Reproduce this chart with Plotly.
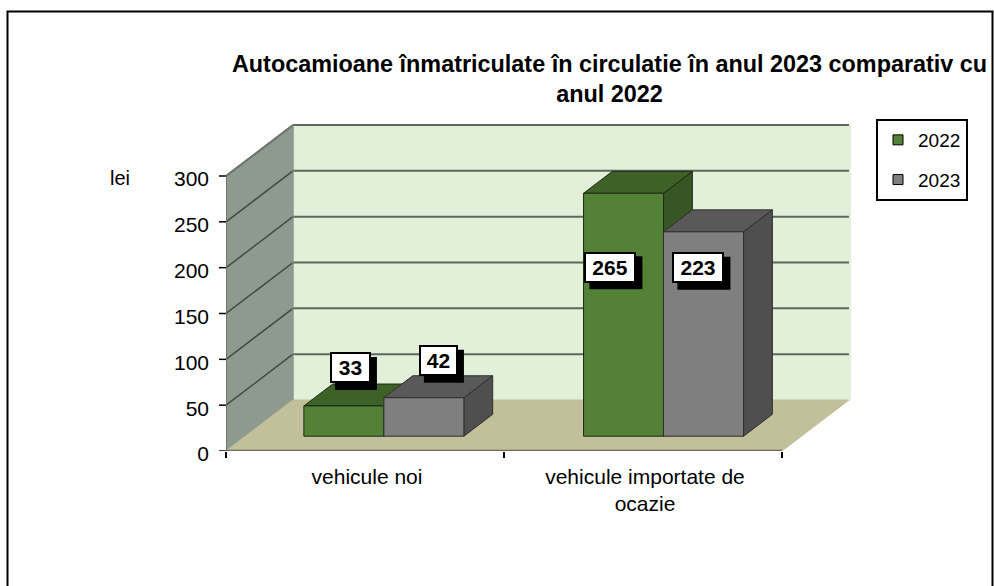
import plotly.graph_objects as go

categories = ["vehicule noi", "vehicule importate de<br>ocazie"]
series_names = ["2022", "2023"]
values_2022 = [33, 265]
values_2023 = [42, 223]
y_ticks = [0, 50, 100, 150, 200, 250, 300]
title_text = "Autocamioane înmatriculate în circulatie în anul 2023 comparativ cu<br>anul 2022"
unit_label = "lei"

W, H = 994, 586
L, R, T, B = 226, 851, 124, 451
PX_PER_CAT = 278.0
PX_PER_VAL = 275.0 / 300
DEPTH_DX = 67 / PX_PER_CAT
DEPTH_DY = 51 / PX_PER_VAL
XMAX = (R - L) / PX_PER_CAT
YMAX = (B - T) / PX_PER_VAL
FONT = "Liberation Sans"


def pj(x, v, d):
    return x + d * DEPTH_DX, v + d * DEPTH_DY


def poly(points, fill, line=None, lw=1):
    xs, ys = zip(*[pj(*p) for p in points])
    return go.Scatter(
        x=list(xs) + [xs[0]], y=list(ys) + [ys[0]], mode="lines", fill="toself",
        fillcolor=fill, line=dict(color=line or fill, width=lw),
        showlegend=False, hoverinfo="skip",
    )


def seg(p0, p1, color="#5f675f", lw=2):
    a, b = pj(*p0), pj(*p1)
    return go.Scatter(x=[a[0], b[0]], y=[a[1], b[1]], mode="lines",
                      line=dict(color=color, width=lw), showlegend=False, hoverinfo="skip")


def bar(x0, x1, val, front, top, side):
    d0, d1 = 0.29, 0.72
    edge = "#1f2a17" if front == GREEN[0] else "#2e2e2e"
    return [
        poly([(x1, 0, d0), (x1, 0, d1), (x1, val, d1), (x1, val, d0)], side, edge),
        poly([(x0, val, d0), (x1, val, d0), (x1, val, d1), (x0, val, d1)], top, edge),
        poly([(x0, 0, d0), (x1, 0, d0), (x1, val, d0), (x0, val, d0)], front, edge),
    ]


GREEN = ("#538135", "#3e6127", "#375623")
GRAY = ("#7f7f7f", "#595959", "#4f4f4f")

fig = go.Figure()
# walls and floor
fig.add_trace(poly([(0, 0, 1), (XMAX - DEPTH_DX, 0, 1), (XMAX - DEPTH_DX, 300, 1), (0, 300, 1)], "#e2efd9"))
fig.add_trace(poly([(0, 0, 0), (0, 0, 1), (0, 300, 1), (0, 300, 0)], "#8f9a8e"))
fig.add_trace(poly([(0, 0, 0), (2, 0, 0), (2, 0, 1), (0, 0, 1)], "#c2c09a"))
for v in y_ticks[1:]:
    fig.add_trace(seg((0, v, 0), (0, v, 1), "#3f4a40", 1.5))
    fig.add_trace(seg((0, v, 1), (2, v, 1)))
fig.add_trace(seg((0, 0, 0), (0, 300, 0), "#6f776f", 2))
fig.add_trace(seg((0, 300, 0), (0, 300, 1), "#6f776f", 2))
fig.add_trace(seg((0, 0, 1), (0, 300, 1), "#8a948a", 1))
fig.add_trace(seg((0, 0, 0), (2, 0, 0), "#6a6a60", 2.5))

# bars
bw = 80 / PX_PER_CAT
for i in range(len(categories)):
    c = i + 0.5 + (0.004 if i else -0.002)
    for t in bar(c - bw, c, values_2022[i], *GREEN):
        fig.add_trace(t)
    for t in bar(c, c + bw, values_2023[i], *GRAY):
        fig.add_trace(t)

# legend entries
for name, col in zip(series_names, (GREEN[0], GRAY[0])):
    fig.add_trace(go.Scatter(
        x=[None], y=[None], mode="markers", name=name, legendgroup=name,
        marker=dict(symbol="square", size=10, color=col, line=dict(color="black", width=1)),
    ))

# data labels: (value, bar centre, pixel offset, box width)
labels = [
    (values_2022[0], 0.5 - bw / 2 + 0.29 * DEPTH_DX, values_2022[0], 6, 38, 41),
    (values_2023[0], 0.5 + bw / 2 + 0.29 * DEPTH_DX, values_2023[0], 14, 37, 39),
    (values_2022[1], 1.5 - bw / 2 + 0.29 * DEPTH_DX, values_2022[1], -12, -74, 52),
    (values_2023[1], 1.5 + bw / 2 + 0.29 * DEPTH_DX, values_2023[1], -4, -36, 52),
]
for val, x, v, xs, ys, w in labels:
    yv = v + 0.29 * DEPTH_DY
    fig.add_shape(type="rect", xref="x", yref="y", xsizemode="pixel", ysizemode="pixel",
                  xanchor=x, yanchor=yv,
                  x0=xs - w / 2 + 5, x1=xs + w / 2 + 6, y0=ys - 16 - 6, y1=ys + 16 - 5,
                  fillcolor="black", line=dict(width=0), layer="above")
    fig.add_annotation(x=x, y=yv, xshift=xs, yshift=ys, text=f"<b>{val}</b>", showarrow=False,
                       width=w - 4, height=27, bgcolor="white", bordercolor="black", borderwidth=2,
                       borderpad=0, font=dict(family=FONT, size=21, color="black"))

fig.add_annotation(x=0, y=300, xshift=-106, yshift=-2, text=unit_label, showarrow=False,
                   font=dict(family=FONT, size=20, color="black"))

pw, ph = R - L, B - T
fig.add_shape(type="rect", xref="paper", yref="paper", layer="below",
              x0=(7.5 - L) / pw, x1=(992.5 - L) / pw,
              y0=(B - 600) / ph, y1=(B - 11.5) / ph,
              line=dict(color="black", width=2), fillcolor="rgba(0,0,0,0)")

# y tick marks, left of the axis
for v in y_ticks:
    fig.add_shape(type="line", xref="paper", yref="y", x0=-7 / pw, x1=0, y0=v, y1=v,
                  line=dict(color="black", width=1.5), layer="above")

fig.update_layout(
    width=W, height=H, margin=dict(l=L, r=W - R, t=T, b=H - B, autoexpand=False),
    paper_bgcolor="white", plot_bgcolor="rgba(0,0,0,0)",
    font=dict(family=FONT, size=21, color="black"),
    title=dict(text=f"<b>{title_text}</b>", x=610 / W, xanchor="center", xref="paper",
               y=1 - 72 / H, yanchor="top", font=dict(family=FONT, size=23.4, color="black")),
    showlegend=True,
    legend=dict(x=(876 - L) / pw, xanchor="left", y=(B - 119) / ph, yanchor="top",
                bgcolor="white", bordercolor="black", borderwidth=2,
                font=dict(family=FONT, size=19), tracegroupgap=12, itemwidth=30),
    xaxis=dict(range=[0, XMAX], showgrid=False, zeroline=False, showline=False,
               tickmode="array", tickvals=[0.5, 1.5], ticktext=categories, ticks="",
               minor=dict(tickmode="array", tickvals=[0, 1, 2], ticks="outside", ticklen=6,
                          tickcolor="black", tickwidth=1.5, showgrid=False),
               ticklabelstandoff=11, ticklabelshift=2,
               tickfont=dict(family=FONT, size=21), fixedrange=True),
    yaxis=dict(range=[0, YMAX], showgrid=False, zeroline=False, showline=False,
               tickmode="array", tickvals=y_ticks, ticks="",
               ticklabelstandoff=16, ticklabelshift=3,
               tickfont=dict(family=FONT, size=21), fixedrange=True),
)

fig.write_html("out.html", post_script="document.body.style.margin='0';window.dispatchEvent(new Event('resize'));",
               config=dict(displayModeBar=False))
